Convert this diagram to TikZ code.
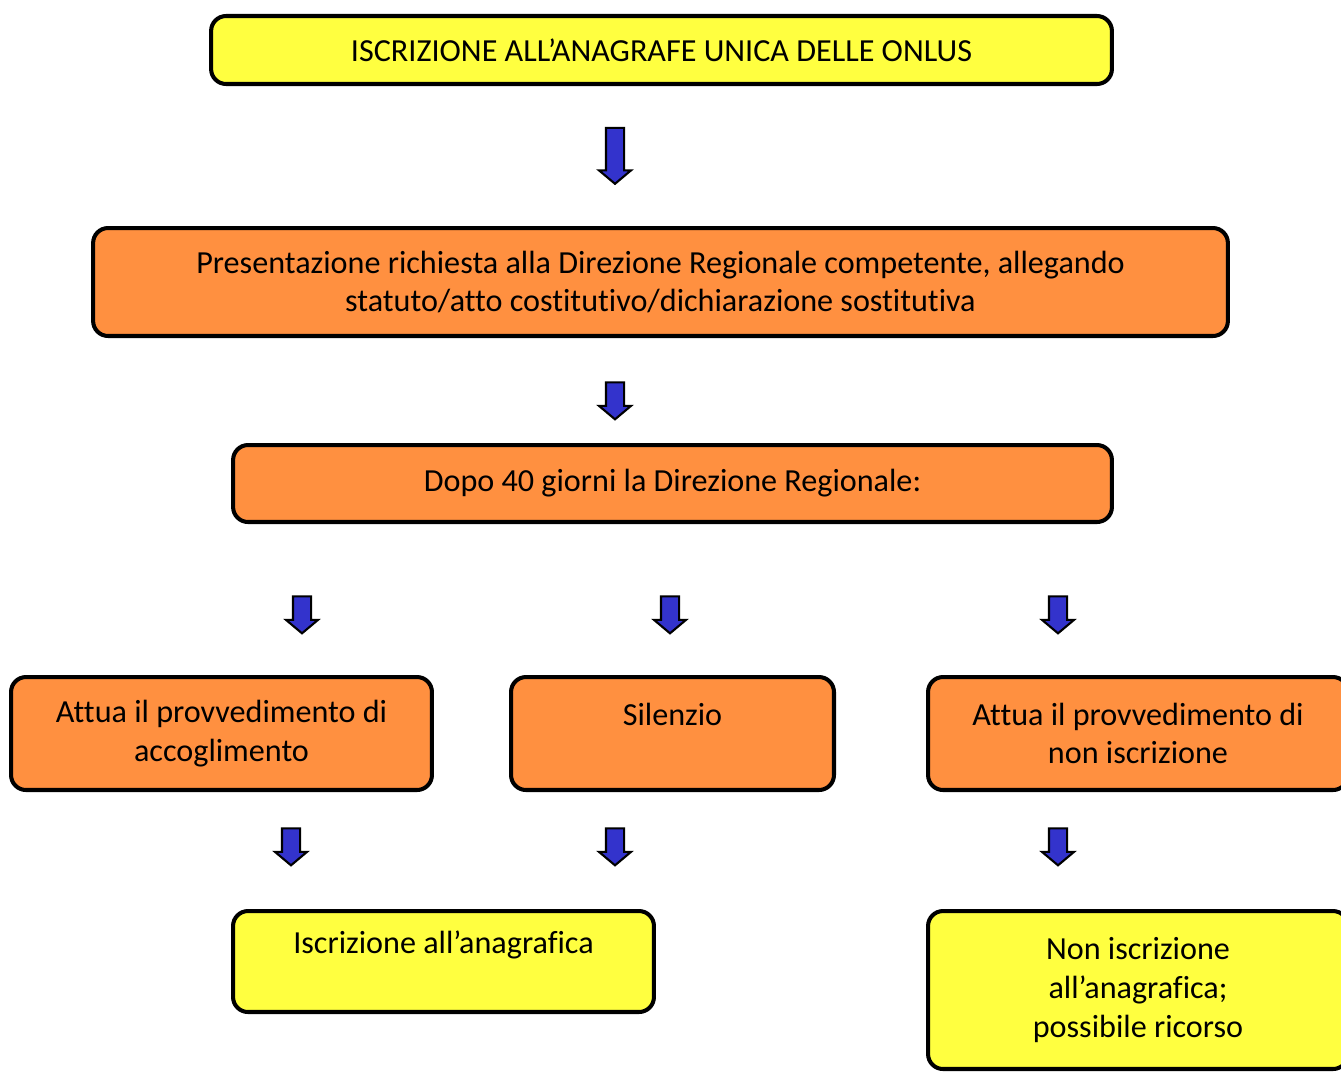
\documentclass[tikz,border=0pt]{standalone}
\usepackage{fontspec}
\setmainfont{Carlito}[Ligatures=NoCommon]
\usetikzlibrary{shapes.arrows}
\definecolor{boxyellow}{RGB}{255,255,64}
\definecolor{boxorange}{RGB}{255,144,64}
\definecolor{arrowblue}{RGB}{51,51,204}
\tikzset{
    flowbox/.style={draw=black, line width=2.3pt, rounded corners=0.3cm, align=center,
        font=\fontsize{18.3}{22}\selectfont, inner sep=0pt},
    yellowbox/.style={flowbox, fill=boxyellow},
    orangebox/.style={flowbox, fill=boxorange},
    blockarrow/.style={single arrow, shape border rotate=270, draw=black, line width=1.2pt,
        fill=arrowblue, inner sep=0.16cm, single arrow head extend=0.14cm,
        single arrow tip angle=100, minimum height=#1},
    blockarrow/.default=0.74cm
}
\begin{document}
\begin{tikzpicture}[x=0.02cm, y=-0.02cm]
    \useasboundingbox (0, 0) rectangle (1341, 1073);
    \node [yellowbox, minimum width=18.02cm, minimum height=1.36cm] (top) at (661.5, 50) {ISCRIZIONE ALL’ANAGRAFE UNICA DELLE ONLUS};
    \node [orangebox, minimum width=22.7cm, minimum height=2.16cm] (request) at (660.5, 282) {Presentazione richiesta alla Direzione Regionale competente, allegando\\statuto/atto costitutivo/dichiarazione sostitutiva};
    \node [orangebox, minimum width=17.58cm, minimum height=1.54cm] (wait) at (672.5, 483.5) {Dopo 40 giorni la Direzione Regionale:};
    \node [orangebox, minimum width=8.42cm, minimum height=2.26cm] (accept) at (221.5, 733.5) {Attua il provvedimento di\\accoglimento};
    \node [orangebox, minimum width=6.46cm, minimum height=2.26cm] (silence) at (672.5, 733.5) {Silenzio\\\mbox{}};
    \node [orangebox, minimum width=8.4cm, minimum height=2.26cm] (reject) at (1138, 733.5) {Attua il provvedimento di\\non iscrizione};
    \node [yellowbox, minimum width=8.42cm, minimum height=2.02cm] (enrolled) at (443.5, 961.5) {Iscrizione all’anagrafica\\\mbox{}};
    \node [yellowbox, minimum width=8.4cm, minimum height=3.16cm] (refused) at (1138, 990) {Non iscrizione\\all’anagrafica;\\possibile ricorso};

    \node [blockarrow=1.12cm] (arr1) at (615, 152) {};
    \node [blockarrow] (arr2) at (615, 397) {};
    \node [blockarrow] (arr3) at (302, 611) {};
    \node [blockarrow] (arr4) at (670, 611) {};
    \node [blockarrow] (arr5) at (1058, 611) {};
    \node [blockarrow] (arr6) at (291, 843) {};
    \node [blockarrow] (arr7) at (615, 843) {};
    \node [blockarrow] (arr8) at (1058, 843) {};
\end{tikzpicture}
\end{document}
